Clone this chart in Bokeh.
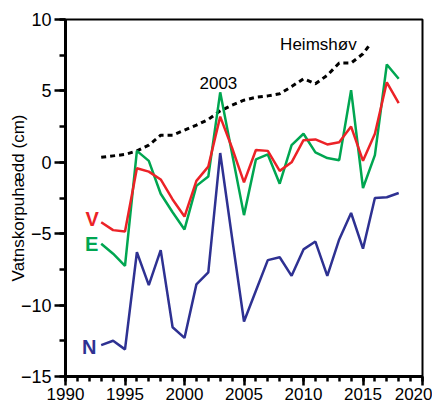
from bokeh.plotting import figure
from bokeh.models import Range1d, SingleIntervalTicker, Label
from bokeh.embed import file_html
from bokeh.resources import INLINE

years = list(range(1993, 2019))
v_vals = [-4.2, -4.75, -4.85, -0.42, -0.65, -1.2, -2.6, -3.8, -1.3, -0.3, 3.2, 1.0, -1.4,
          0.86, 0.8, -0.6, 0.0, 1.55, 1.6, 1.25, 1.4, 2.5, 0.1, 2.0, 5.6, 4.15]
e_vals = [-5.7, -6.4, -7.25, 0.8, 0.1, -2.2, -3.5, -4.7, -1.65, -1.0, 4.9, 0.6, -3.7,
          0.2, 0.55, -1.5, 1.2, 2.0, 0.7, 0.3, 0.15, 5.05, -1.8, 0.5, 6.85, 5.85]
n_vals = [-12.8, -12.5, -13.1, -6.3, -8.6, -6.15, -11.55, -12.3, -8.55, -7.7, 0.65, -5.3, -11.15,
          -9.0, -6.85, -6.65, -7.95, -6.1, -5.55, -7.95, -5.4, -3.55, -6.05, -2.5, -2.45, -2.15]
h_years = [1993, 1994, 1995, 1996, 1997, 1998, 1999, 2000, 2001, 2002, 2003, 2004, 2005,
           2006, 2007, 2008, 2009, 2010, 2011, 2012, 2013, 2014, 2015, 2015.5]
h_vals = [0.35, 0.45, 0.55, 0.8, 1.2, 1.9, 1.9, 2.25, 2.6, 3.0, 3.6, 4.0, 4.35,
          4.55, 4.65, 4.8, 5.3, 5.85, 5.5, 6.1, 6.95, 6.95, 7.6, 8.15]

FONT = "Liberation Sans"
RED = "#ec2227"
GREEN = "#00a651"
BLUE = "#2e3192"

p = figure(width=432, height=405, output_backend="svg", toolbar_location=None,
           x_range=Range1d(1990, 2020), y_range=Range1d(-15, 10),
           min_border_left=65, min_border_right=10, min_border_top=19, min_border_bottom=29)
p.xgrid.visible = False
p.ygrid.visible = False
p.outline_line_color = "black"
p.outline_line_width = 2
p.outline_line_alpha = 1
p.background_fill_color = "white"
p.border_fill_color = "white"

p.xaxis.ticker = SingleIntervalTicker(interval=5, num_minor_ticks=5)
p.yaxis.ticker = SingleIntervalTicker(interval=5, num_minor_ticks=2)
for ax in (p.xaxis[0], p.yaxis[0]):
    ax.axis_line_width = 3
    ax.axis_line_color = "black"
    ax.major_tick_line_width = 2.5
    ax.minor_tick_line_width = 2.5
    ax.major_tick_in = 0
    ax.minor_tick_in = 0
    ax.major_label_text_font = FONT
    ax.major_label_text_color = "black"
p.xaxis.major_tick_out = 9
p.xaxis.minor_tick_out = 5
p.xaxis.major_label_standoff = 2
p.xaxis.major_label_text_font_size = "17px"
p.yaxis.major_tick_out = 11
p.yaxis.minor_tick_out = 6
p.yaxis.major_label_standoff = 3
p.yaxis.major_label_text_font_size = "18px"
p.yaxis.axis_label = "Vatnskorpuhædd (cm)"
p.yaxis.axis_label_text_font = FONT
p.yaxis.axis_label_text_font_size = "17px"
p.yaxis.axis_label_text_font_style = "normal"
p.yaxis.axis_label_text_color = "black"
p.yaxis.axis_label_standoff = -10

p.line(h_years, h_vals, line_color="black", line_width=3, line_dash="5 4")
p.line(years, n_vals, line_color=BLUE, line_width=2.5)
p.line(years, e_vals, line_color=GREEN, line_width=2.5)
p.line(years, v_vals, line_color=RED, line_width=2.5)

def add_label(x, y, txt, color="black", size="17px", style="normal"):
    p.add_layout(Label(x=x, y=y, text=txt, text_color=color, text_font=FONT,
                       text_font_size=size, text_font_style=style,
                       text_align="center", text_baseline="middle"))

add_label(2002.85, 5.55, "2003")
add_label(2011.25, 8.25, "Heimshøv")
add_label(1992.25, -3.95, "V", RED, "20px", "bold")
add_label(1992.2, -5.75, "E", GREEN, "20px", "bold")
add_label(1992.0, -12.9, "N", BLUE, "20px", "bold")

open("out.html", "w").write(file_html(p, INLINE))
